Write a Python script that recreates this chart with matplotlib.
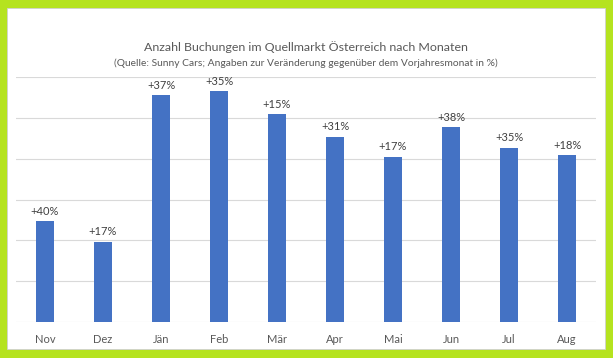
import matplotlib.pyplot as plt
from matplotlib.patches import Rectangle

months = ["Nov", "Dez", "Jän", "Feb", "Mär", "Apr", "Mai", "Jun", "Jul", "Aug"]
bookings = [2470, 1970, 5560, 5660, 5090, 4540, 4050, 4780, 4270, 4090]
labels = ["+40%", "+17%", "+37%", "+35%", "+15%", "+31%", "+17%", "+38%", "+35%", "+18%"]

plt.rcParams["font.family"] = ["Lato", "DejaVu Sans"]

W, H = 613, 358
fig = plt.figure(figsize=(W / 100, H / 100), dpi=100, facecolor="#b5e31f")
fig.patches.append(Rectangle((7 / W, 1 - 349 / H), 598 / W, 341 / H,
                             transform=fig.transFigure, facecolor="white",
                             edgecolor="#d0d0d0", linewidth=0.6, zorder=-1))

ax = fig.add_axes([16 / W, 1 - 322 / H, 580 / W, 245 / H])
ax.set_facecolor("none")
x = range(len(months))
ax.bar(x, bookings, width=0.32, color="#4472c4", zorder=3)
for i, (v, t) in enumerate(zip(bookings, labels)):
    ax.annotate(t, (i, v), xytext=(0, 3), textcoords="offset points",
                ha="center", va="bottom", fontsize=8, color="#404040")

ax.set_xlim(-0.5, len(months) - 0.5)
ax.set_ylim(0, 6000)
ax.set_yticks(range(0, 6001, 1000))
ax.yaxis.grid(True, color="#d9d9d9", linewidth=0.8, zorder=0)
ax.tick_params(axis="y", left=False, labelleft=False)
ax.tick_params(axis="x", bottom=False, pad=5, labelsize=8, labelcolor="#595959")
ax.set_xticks(list(x))
ax.set_xticklabels(months)
for s in ax.spines.values():
    s.set_visible(False)

fig.text(306 / W, 1 - 47 / H, "Anzahl Buchungen im Quellmarkt Österreich nach Monaten",
         ha="center", va="center", fontsize=8.9, color="#595959")
fig.text(306 / W, 1 - 63 / H,
         "(Quelle: Sunny Cars; Angaben zur Veränderung gegenüber dem Vorjahresmonat in %)",
         ha="center", va="center", fontsize=7.4, color="#595959")

fig.savefig("out.png", dpi=100, facecolor=fig.get_facecolor())
